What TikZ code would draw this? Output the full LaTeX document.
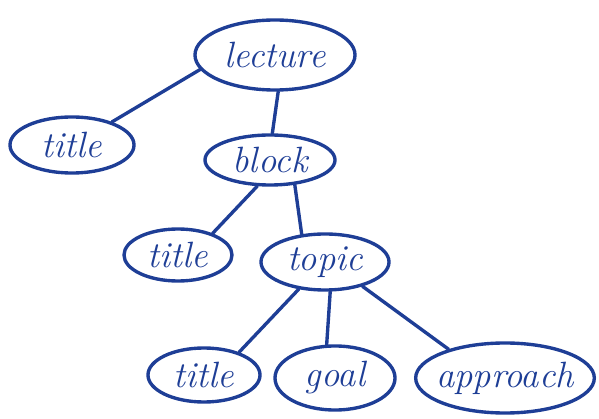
\documentclass[tikz,border=0pt]{standalone}
\usetikzlibrary{shapes.geometric}
\definecolor{ink}{RGB}{30,62,150}
\begin{document}
\begin{tikzpicture}[x=0.025cm,y=-0.025cm,
    concept/.style={ellipse,draw=ink,line width=2.4pt,inner sep=0pt,
        text=ink,font=\fontsize{26}{30}\selectfont\itshape},
    link/.style={draw=ink,line width=2.4pt,line cap=round}]
    \useasboundingbox (0,0) rectangle (599,419);
    \node [concept,minimum width=4cm,minimum height=1.75cm] (lecture) at (275,55) {lecture};
    \node [concept,minimum width=3.1cm,minimum height=1.4cm] (lecturetitle) at (72,145) {title};
    \node [concept,minimum width=3.25cm,minimum height=1.25cm] (block) at (270,160) {block};
    \node [concept,minimum width=2.7cm,minimum height=1.3cm] (blocktitle) at (178,255) {title};
    \node [concept,minimum width=3.2cm,minimum height=1.4cm] (topic) at (325,262) {topic};
    \node [concept,minimum width=2.8cm,minimum height=1.35cm] (topictitle) at (204,375) {title};
    \node [concept,minimum width=3cm,minimum height=1.6cm] (goal) at (335,378) {goal};
    \node [concept,minimum width=4.25cm,minimum height=1.75cm,inner xsep=-4pt] (approach) at (505,378) {approach};
    \path [link] (lecture.191) -- (lecturetitle.30);
    \path [link] (lecture.-85) -- (block.85);
    \path [link] (block.244) -- (blocktitle.32);
    \path [link] (block.315) -- (topic.130);
    \path [link] (topic.226) -- (topictitle.33);
    \path [link] (topic.280) -- (goal.104);
    \path [link] (topic.327) -- (approach.153);
\end{tikzpicture}
\end{document}
